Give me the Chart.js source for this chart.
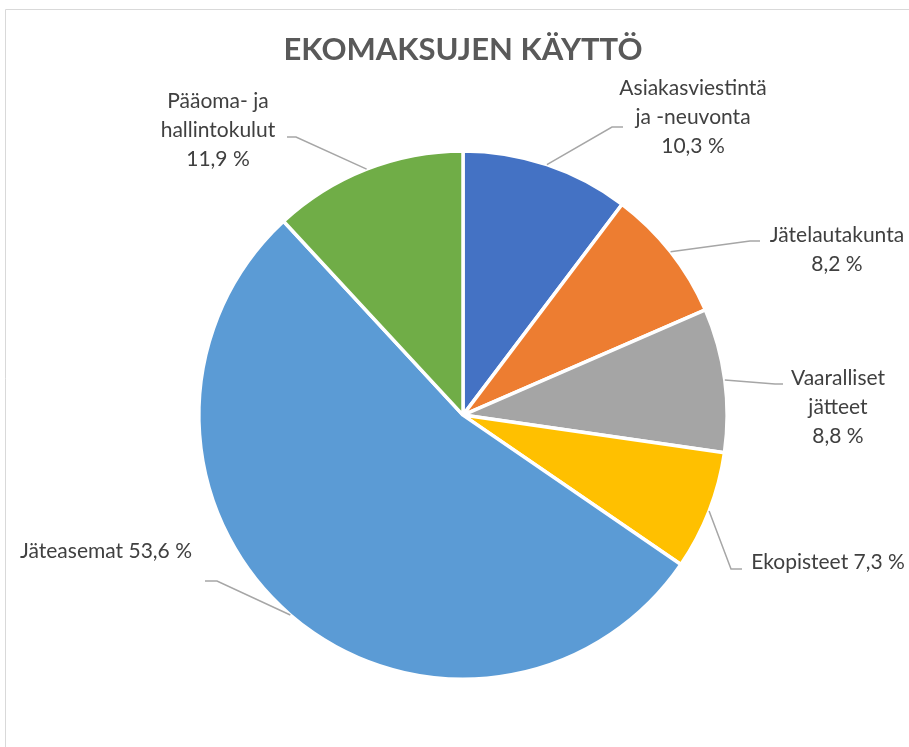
<!DOCTYPE html>
<html>
<head>
<meta charset="utf-8">
<script src="https://cdn.jsdelivr.net/npm/chart.js@4.4.1/dist/chart.umd.min.js"></script>
<style>
  html, body { margin: 0; padding: 0; background: #fff; }
  #wrap { width: 909px; height: 747px; position: relative; }
</style>
</head>
<body>
<div id="wrap"><canvas id="pieChart"></canvas></div>
<script>
// Data
const chartTitle = 'EKOMAKSUJEN KÄYTTÖ';
const categories = [
    'Asiakasviestintä\nja -neuvonta',
    'Jätelautakunta',
    'Vaaralliset\njätteet',
    'Ekopisteet',
    'Jäteasemat',
    'Pääoma- ja\nhallintokulut'
];
const shares = [10.3, 8.2, 8.8, 7.3, 53.6, 11.9];
const sliceColors = ['#4472C4', '#ED7D31', '#A5A5A5', '#FFC000', '#5B9BD5', '#70AD47'];

// Where each callout goes, relative to the pie centre (px)
const calloutLayout = [
    { elbow: [149, -288], end: [160, -288], text: [230, -298], inline: false },
    { elbow: [287, -174], end: [297, -174], text: [374, -165], inline: false },
    { elbow: [312, -31],  end: [320, -31],  text: [375, -8],   inline: false },
    { elbow: [268, 154],  end: [279, 154],  text: [365, 147],  inline: true },
    { elbow: [-246, 166], end: [-258, 166], text: [-357, 136], inline: true },
    { elbow: [-167, -278], end: [-176, -278], text: [-245, -285], inline: false }
];

const formatShare = v => v.toFixed(1).replace('.', ',') + ' %';

// Frame line around the chart, like the Excel chart border
const framePlugin = {
    id: 'frame',
    beforeDraw(chart) {
        const ctx = chart.ctx;
        ctx.save();
        ctx.strokeStyle = '#d9d9d9';
        ctx.lineWidth = 1;
        ctx.beginPath();
        ctx.moveTo(5.5, chart.height);
        ctx.lineTo(5.5, 9.5);
        ctx.lineTo(chart.width, 9.5);
        ctx.stroke();
        ctx.restore();
    }
};

// Callout labels with leader lines, anchored on each arc's middle
const calloutPlugin = {
    id: 'callouts',
    afterDatasetsDraw(chart) {
        const ctx = chart.ctx;
        const meta = chart.getDatasetMeta(0);
        ctx.save();
        meta.data.forEach((arc, i) => {
            const p = arc.getProps(['x', 'y', 'startAngle', 'endAngle', 'outerRadius'], true);
            const mid = (p.startAngle + p.endAngle) / 2;
            const sx = p.x + Math.cos(mid) * p.outerRadius;
            const sy = p.y + Math.sin(mid) * p.outerRadius;
            const c = calloutLayout[i];

            ctx.strokeStyle = '#a6a6a6';
            ctx.lineWidth = 1.5;
            ctx.beginPath();
            ctx.moveTo(sx, sy);
            ctx.lineTo(p.x + c.elbow[0], p.y + c.elbow[1]);
            ctx.lineTo(p.x + c.end[0], p.y + c.end[1]);
            ctx.stroke();

            let lines = categories[i].split('\n');
            if (c.inline) {
                lines[lines.length - 1] += ' ' + formatShare(shares[i]);
            } else {
                lines.push(formatShare(shares[i]));
            }
            const lineH = 29;
            const tx = p.x + c.text[0];
            const ty = p.y + c.text[1] - (lines.length - 1) * lineH / 2;
            ctx.fillStyle = '#404040';
            ctx.font = '21px Lato, "Open Sans", sans-serif';
            ctx.textAlign = 'center';
            ctx.textBaseline = 'middle';
            lines.forEach((line, k) => ctx.fillText(line, tx, ty + k * lineH));
        });
        ctx.restore();
    }
};

document.addEventListener('DOMContentLoaded', function() {
    const ctx = document.getElementById('pieChart').getContext('2d');

    new Chart(ctx, {
        type: 'pie',
        data: {
            labels: categories,
            datasets: [{
                data: shares,
                backgroundColor: sliceColors,
                borderColor: '#ffffff',
                borderWidth: 3.5
            }]
        },
        options: {
            responsive: true,
            maintainAspectRatio: false,
            animation: false,
            layout: {
                padding: { left: 100, right: 83, top: 0, bottom: 66 }
            },
            plugins: {
                legend: { display: false },
                tooltip: { enabled: false },
                title: {
                    display: true,
                    text: chartTitle,
                    color: '#595959',
                    font: { family: 'Lato, "Open Sans", sans-serif', size: 31, weight: 'bold' },
                    padding: { top: 31, bottom: 81 }
                }
            }
        },
        plugins: [framePlugin, calloutPlugin]
    });
});
</script>
</body>
</html>
